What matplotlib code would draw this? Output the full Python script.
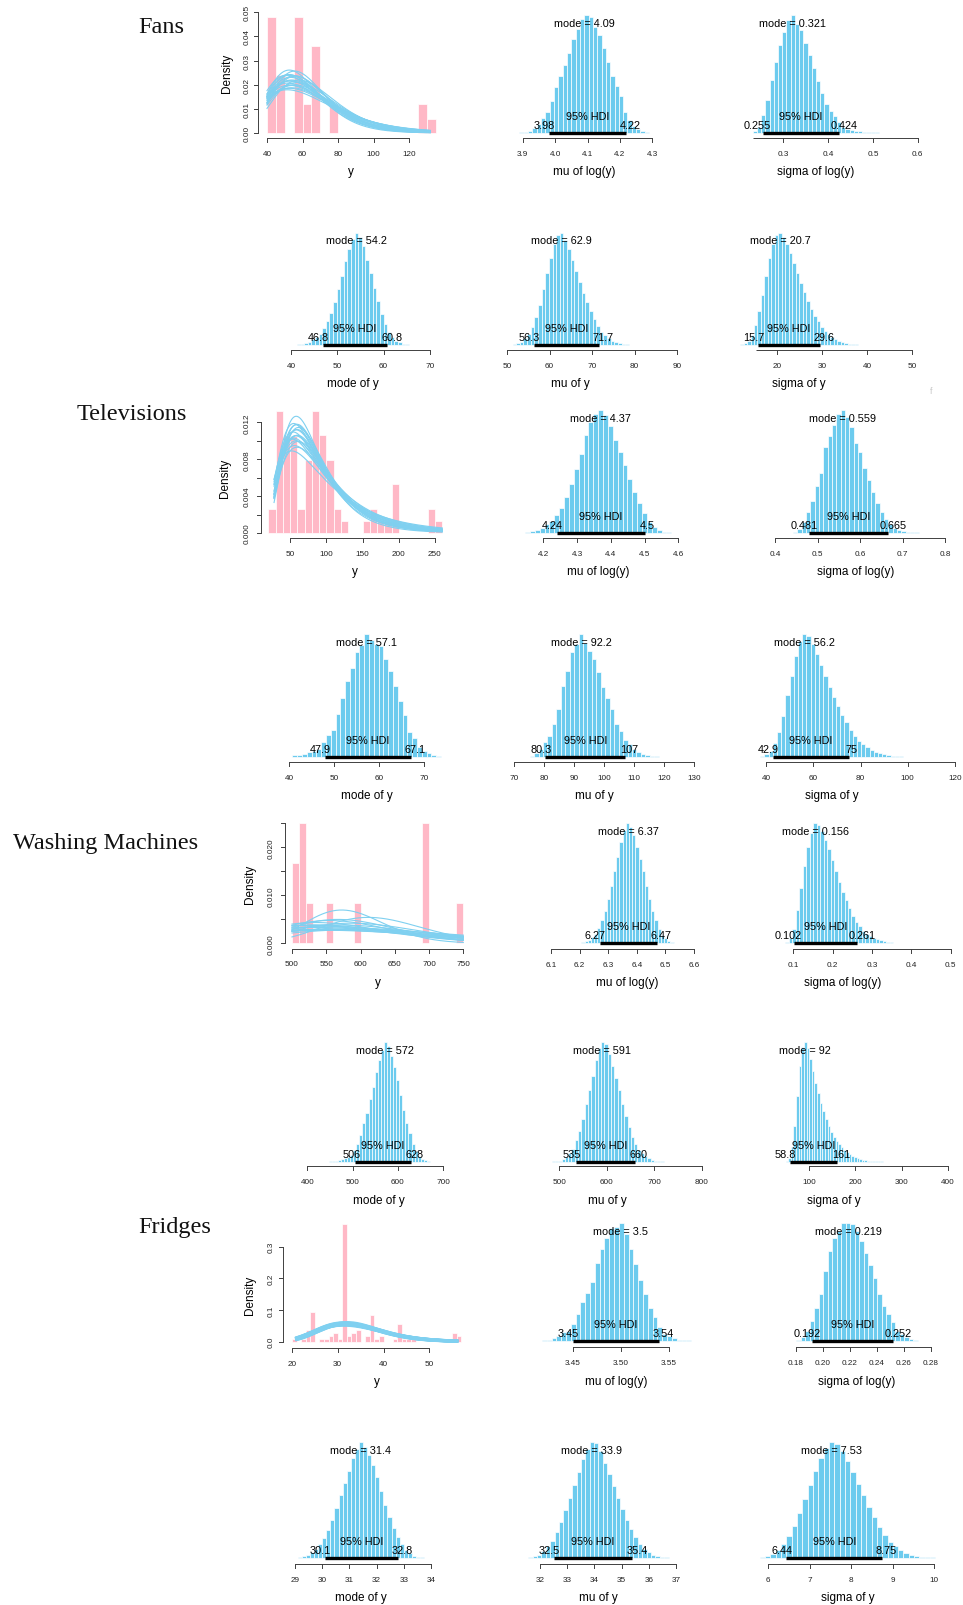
import numpy as np
import matplotlib.pyplot as plt

plt.rcParams['font.family'] = ['Liberation Sans', 'DejaVu Sans']

W, H = 963, 1606
BLUE = '#6ccbee'
CURVE = '#7fd0f0'
PINK = '#ffb8c6'
AXC = '#404040'

groups = ['Fans', 'Televisions', 'Washing Machines', 'Fridges']
param_labels = ['mu of log(y)', 'sigma of log(y)', 'mode of y', 'mu of y', 'sigma of y']

# ---------------- observed data (density per bin) ----------------
fans_breaks = np.arange(40, 140, 5)
fans_density = [0.048, 0.024, 0, 0.048, 0.012, 0.036, 0, 0.012, 0, 0, 0, 0, 0, 0, 0, 0, 0, 0.012, 0.006]
tv_breaks = np.arange(20, 270, 10)
tv_density = [0.0026, 0.0132, 0.0105, 0.0105, 0.0026, 0.0079, 0.0132, 0.0106, 0.0079, 0.0026, 0.0013, 0, 0,
              0.0013, 0.0026, 0.0013, 0.0013, 0.0053, 0, 0, 0, 0, 0.0026, 0.0013]
wm_breaks = np.arange(500, 760, 10)
wm_density = [0.0167, 0.025, 0.0083, 0, 0, 0.0083, 0, 0, 0, 0.0083, 0, 0, 0, 0, 0, 0, 0, 0, 0, 0.025, 0, 0, 0, 0, 0.0083]
fr_breaks = np.arange(20, 58, 1)
fr_counts = [1, 0, 1, 4, 10, 0, 1, 1, 2, 3, 1, 40, 2, 3, 4, 0, 2, 9, 1, 2, 0, 0, 1, 6, 1, 1, 1,
             0, 0, 0, 0, 0, 0, 0, 0, 3, 2]
fr_unit_density = 0.0093

# posterior predictive curves (lognormal mu, sigma pairs)
fans_pp_mu = [4.05, 4.08, 4.10, 4.12, 4.07, 4.09, 4.14, 4.04, 4.11, 4.06, 4.13, 4.09, 4.08, 4.10, 4.03, 4.15, 4.07, 4.11, 4.09, 4.12]
fans_pp_sigma = [0.30, 0.33, 0.29, 0.35, 0.31, 0.36, 0.32, 0.28, 0.38, 0.30, 0.34, 0.27, 0.33, 0.40, 0.31, 0.30, 0.35, 0.29, 0.32, 0.37]
tv_pp_mu = [4.37, 4.30, 4.42, 4.35, 4.40, 4.33, 4.38, 4.45, 4.36, 4.32, 4.39, 4.34, 4.41, 4.36, 4.29, 4.43, 4.37, 4.35]
tv_pp_sigma = [0.56, 0.48, 0.68, 0.53, 0.58, 0.51, 0.55, 0.60, 0.52, 0.57, 0.54, 0.50, 0.62, 0.59, 0.53, 0.56, 0.50, 0.61]
wm_pp_mu = [6.36, 6.43, 6.35, 6.30, 6.38, 6.33, 6.40, 6.37, 6.32, 6.41, 6.34, 6.39, 6.31, 6.36, 6.44, 6.35]
wm_pp_sigma = [0.10, 0.12, 0.25, 0.20, 0.18, 0.22, 0.16, 0.26, 0.19, 0.21, 0.15, 0.24, 0.17, 0.14, 0.23, 0.20]
fr_pp_mu = [3.50, 3.49, 3.51, 3.50, 3.48, 3.52, 3.50, 3.49, 3.51, 3.50, 3.49, 3.51, 3.50, 3.50, 3.52, 3.48]
fr_pp_sigma = [0.22, 0.21, 0.23, 0.22, 0.21, 0.22, 0.23, 0.22, 0.21, 0.24, 0.22, 0.20, 0.22, 0.23, 0.21, 0.22]
pp_range = {'Fans': (40, 132), 'Televisions': (28, 260), 'Washing Machines': (500, 750), 'Fridges': (21, 56)}

# ---------------- posterior summaries ----------------
fans_mode = [4.09, 0.321, 54.2, 62.9, 20.7]
fans_hdi_lo = [3.98, 0.255, 46.8, 56.3, 15.7]
fans_hdi_hi = [4.22, 0.424, 60.8, 71.7, 29.6]
fans_hist_start = [3.89, 0.232, 41.3, 51.3, 11.8]
fans_hist = [
    [0.5, 1, 2, 4, 8, 13, 18, 27, 39, 48, 58, 68, 80, 88, 97, 100, 98, 90, 83, 72, 60, 48, 40, 31, 18, 11, 6, 3, 1.5, 0.8],
    [1.4, 5, 15, 28, 45, 60, 75, 86, 96, 100, 92, 87, 76, 66, 55, 44, 34, 25, 19, 14, 9, 5.5, 3.7, 2.5, 1.8, 1.3, 1, 0.8, 0.6, 0.5],
    [0.5, 1, 2, 3, 5, 7, 10, 15, 21, 29, 38, 50, 62, 75, 86, 95, 100, 96, 88, 76, 64, 51, 39, 28, 19, 12, 7, 4, 2.3, 1.2, 0.6],
    [0.5, 1.5, 3, 6, 10, 16, 25, 36, 50, 64, 78, 90, 98, 100, 94, 86, 76, 66, 56, 46, 38, 30, 23, 17, 12, 8.5, 6, 4, 2.5, 1.5, 0.9, 0.6],
    [0.5, 1.5, 4, 9, 18, 30, 45, 62, 78, 90, 98, 100, 96, 90, 82, 73, 64, 55, 47, 39, 32, 26, 21, 16, 12.5, 9.5, 7, 5, 3.6, 2.5, 1.7, 1.1, 0.8, 0.6],
]
fans_ticks = [['3.9', '4.0', '4.1', '4.2', '4.3'], ['0.3', '0.4', '0.5', '0.6'], ['40', '50', '60', '70'],
              ['50', '60', '70', '80', '90'], ['20', '30', '40', '50']]

tv_mode = [4.37, 0.559, 57.1, 92.2, 56.2]
tv_hdi_lo = [4.24, 0.481, 47.9, 80.3, 42.9]
tv_hdi_hi = [4.5, 0.665, 67.1, 107, 75]
tv_hist_start = [4.146, 0.442, 40.7, 75.1, 37.5]
tv_hist = [
    [0.5, 1.5, 2.5, 4, 7, 10, 15, 20, 29, 40, 52, 64, 80, 90, 97, 100, 96, 87, 76, 66, 55, 44, 33, 24, 16, 9, 5, 2.5, 1.2, 0.6],
    [0.6, 3, 8.7, 17, 26, 38, 49, 70, 79, 88, 97, 100, 94, 86, 73, 66, 53, 43, 33, 24, 17, 11.4, 7.3, 4, 2.4, 1.6, 1.1, 0.7, 0.5],
    [1, 1.4, 2.4, 3.5, 5, 6, 12, 18, 22, 35, 48, 62, 72, 85, 91, 100, 95, 92, 90, 80, 70, 58, 45, 34, 20, 15, 8, 5, 3, 1.6, 0.8],
    [0.8, 3, 6, 12, 17, 27, 39, 58, 70, 85, 92, 100, 93, 86, 80, 69, 57, 48, 39, 27, 21, 14, 10, 6, 3.5, 2.2, 1.4, 0.8, 0.5],
    [0.5, 2, 5, 11, 20, 33, 50, 66, 82, 94, 100, 98, 92, 84, 75, 66, 57, 49, 41, 34, 28, 22, 17, 13, 10, 7.5, 5.5, 4, 2.8, 1.9, 1.2, 0.8, 0.6, 0.5],
]
tv_ticks = [['4.2', '4.3', '4.4', '4.5', '4.6'], ['0.4', '0.5', '0.6', '0.7', '0.8'], ['40', '50', '60', '70'],
            ['70', '80', '90', '100', '110', '120', '130'], ['40', '60', '80', '100', '120']]

wm_mode = [6.37, 0.156, 572, 591, 92]
wm_hdi_lo = [6.27, 0.102, 506, 535, 58.8]
wm_hdi_hi = [6.47, 0.261, 628, 660, 161]
wm_hist_start = [6.195, 0.080, 447, 484, 49.4]
wm_hist = [
    [0.5, 0.8, 1.5, 3, 5, 8, 13, 19, 27, 37, 48, 60, 72, 84, 94, 100, 97, 90, 80, 70, 60, 48, 37, 27, 19, 12, 7, 4, 2, 1, 0.6],
    [1, 4, 12, 28, 46, 64, 80, 92, 100, 98, 93, 86, 78, 69, 60, 51, 43, 36, 29, 23, 18, 14, 10.5, 8, 6, 4.5, 3.3, 2.4, 1.7, 1.2, 0.8, 0.6, 0.5],
    [0.5, 0.6, 1, 1.5, 2, 3, 4, 6, 10, 15, 22, 32, 41, 52, 62, 75, 85, 93, 100, 97, 88, 79, 68, 56, 43, 32, 24, 15, 9, 5, 2.5, 1.2, 0.6],
    [0.5, 0.6, 1, 2, 4, 7, 11, 18, 26, 36, 48, 60, 72, 85, 95, 100, 98, 90, 80, 70, 60, 48, 38, 29, 21, 15, 10, 7, 4.5, 3, 1.8, 1, 0.6, 0.5],
    [0.5, 3, 12, 30, 55, 80, 96, 100, 95, 86, 76, 66, 57, 49, 42, 36, 30, 25, 21, 17.5, 14.5, 12, 10, 8, 6.5, 5, 4, 3.1, 2.4, 1.8, 1.3, 1, 0.8, 0.6, 0.5, 0.4, 0.3],
]
wm_ticks = [['6.1', '6.2', '6.3', '6.4', '6.5', '6.6'], ['0.1', '0.2', '0.3', '0.4', '0.5'], ['400', '500', '600', '700'],
            ['500', '600', '700', '800'], ['100', '200', '300', '400']]

fr_mode = [3.5, 0.219, 31.4, 33.9, 7.53]
fr_hdi_lo = [3.45, 0.192, 30.1, 32.5, 6.44]
fr_hdi_hi = [3.54, 0.252, 32.8, 35.4, 8.75]
fr_hist_start = [3.418, 0.180, 29.1, 31.57, 5.80]
fr_hist = [
    [0.5, 0.8, 2.5, 4.5, 7.3, 8.8, 14, 23, 33, 41, 50, 66, 78, 87, 96, 97, 100, 91, 78, 65, 52, 40, 28, 20, 12, 6, 4, 2.5, 1.1, 0.7, 0.5],
    [1.1, 3, 8.5, 17, 28, 40, 59, 76, 87, 93, 100, 99.7, 99, 93, 85, 75, 64, 53, 40, 30, 23, 16, 8.8, 6, 3, 1.4, 0.7],
    [0.5, 1.5, 3, 5, 8, 12, 17, 24, 33, 43, 54, 65, 75, 86, 94, 100, 96, 89, 80, 70, 58, 46, 35, 26, 18, 12, 7, 4, 2, 1, 0.6],
    [0.5, 1.5, 3, 6, 10, 15, 22, 31, 41, 52, 63, 74, 85, 94, 100, 99, 92, 82, 72, 62, 52, 42, 33, 25, 18, 12, 8, 5, 3, 1.5, 0.8, 0.5],
    [0.5, 1.5, 3.5, 7, 12, 19, 28, 39, 51, 63, 75, 86, 95, 100, 98, 92, 84, 74, 64, 54, 44, 35, 27, 20, 14, 10, 7, 4.5, 3, 2, 1.2, 0.8, 0.5],
]
fr_ticks = [['3.45', '3.50', '3.55'], ['0.18', '0.20', '0.22', '0.24', '0.26', '0.28'], ['29', '30', '31', '32', '33', '34'],
            ['32', '33', '34', '35', '36', '37'], ['6', '7', '8', '9', '10']]

# ---------------- layout (pixels in the 963x1606 canvas) ----------------
# rows: (peak of histogram, baseline, axis line)
row_px = {
    'Fans': [(16, 134, 138.5), (234, 346, 351)],
    'Televisions': [(411, 534, 539), (635, 757.7, 763)],
    'Washing Machines': [(824, 944.3, 950), (1043, 1162.7, 1167.3)],
    'Fridges': [(1224, 1342, 1348.3), (1443, 1559, 1565)],
}
# (tick value, pixel, tick value, pixel) for every posterior panel
post_x = {
    'Fans': [(3.9, 522.7, 4.3, 652.3), (0.3, 783.3, 0.6, 917.7), (40, 291, 70, 430), (50, 507, 90, 677), (20, 777, 50, 912)],
    'Televisions': [(4.2, 543.3, 4.6, 678.3), (0.4, 775, 0.8, 945), (40, 289.3, 70, 424), (70, 514.3, 130, 694.3), (40, 766, 120, 955)],
    'Washing Machines': [(6.1, 551, 6.6, 694), (0.1, 793.3, 0.5, 950.7), (400, 307.3, 700, 443.3), (500, 559.3, 800, 701.7), (100, 809, 400, 948)],
    'Fridges': [(3.45, 572.7, 3.55, 669), (0.18, 796, 0.28, 931), (29, 295, 34, 431), (32, 540, 37, 676), (6, 768, 10, 934)],
}
# in the Fans sigma panels the axis line starts left of the first tick
axis_start = {('Fans', 1): 0.233, ('Fans', 4): 15.3}
title_px = {'Fans': (161, 33), 'Televisions': (132, 420), 'Washing Machines': (106, 849), 'Fridges': (175, 1233)}

fig = plt.figure(figsize=(W / 100, H / 100), dpi=100)
renderer = fig.canvas.get_renderer()


def lognorm_pdf(x, mu, sigma):
    return np.exp(-(np.log(x) - mu) ** 2 / (2 * sigma ** 2)) / (x * sigma * np.sqrt(2 * np.pi))


def make_ax(box, xa, ya):
    L, T, R, B = box
    ax = fig.add_axes([L / W, 1 - B / H, (R - L) / W, (B - T) / H])
    v0, p0, v1, p1 = xa
    sx = (v1 - v0) / (p1 - p0)
    ax.set_xlim(v0 + (L - p0) * sx, v0 + (R - p0) * sx)
    u0, q0, u1, q1 = ya
    sy = (u1 - u0) / (q1 - q0)
    ax.set_ylim(u0 + (B - q0) * sy, u0 + (T - q0) * sy)
    ax.axis('off')
    return ax, sx, (lambda p: v0 + (p - p0) * sx), (lambda q: u0 + (q - q0) * sy)


def x_axis(ax, yv, labels, axis_px, line_from=None):
    ticks = [float(s) for s in labels]
    y0 = yv(axis_px)
    x_first = ticks[0] if line_from is None else line_from
    ax.plot([x_first, ticks[-1]], [y0, y0], color=AXC, lw=0.7, clip_on=False, solid_capstyle='butt')
    for t, s in zip(ticks, labels):
        ax.plot([t, t], [y0, yv(axis_px + 4)], color=AXC, lw=0.7, clip_on=False)
        ax.text(t, yv(axis_px + 15.5), s, ha='center', va='center', fontsize=5.9, color='#222222')


def post_panel(xa, row, label, mode, lo, hi, start, heights, tick_labels, line_from=None):
    peak, base, axis_px = row
    ax, sx, xv, yv = make_ax((xa[1] - 90, peak - 30, xa[3] + 90, axis_px + 45), xa, (0, base, 100, peak))
    w = (hi - lo) / 18
    h = np.asarray(heights, float)
    left = start + w * np.arange(len(h))
    ax.bar(left, h, width=w, align='edge', color=BLUE, edgecolor='white', linewidth=0.5, clip_on=False)
    ax.plot([lo, hi], [0, 0], color='black', lw=2.4, solid_capstyle='butt', clip_on=False)
    ax.text(mode, yv(base - 0.9 * (base - peak) - 4), 'mode = %.3g' % mode, ha='center', va='center', fontsize=7.8)
    ax.text((lo + hi) / 2, yv(base - 17), '95% HDI', ha='center', va='center', fontsize=7.8)
    for v, shift in ((lo, -0.2), (hi, 0.2)):
        t = ax.text(v, yv(base - 8), '%.3g' % v, ha='center', va='center', fontsize=7.8)
        wpx = t.get_window_extent(renderer).width
        t.set_x(v + shift * wpx * sx)
    x_axis(ax, yv, tick_labels, axis_px, line_from)
    ax.text(start + len(h) * w / 2, yv(axis_px + 33.5), label, ha='center', va='center', fontsize=8.5)


def data_panel(name, xa, ya, yaxis_px, xaxis_px, ylab_px, dens_px, breaks, dens, pp_mu, pp_sigma,
               xlabels, yticks, ylabels, curve_lw):
    ax, sx, xv, yv = make_ax((xa[1] - 60, ya[3] - 30, xa[3] + 60, xaxis_px + 45), xa, ya)
    ax.bar(breaks[:-1], dens, width=np.diff(breaks), align='edge', color=PINK, edgecolor='white',
           linewidth=0.5, clip_on=False)
    xs = np.linspace(pp_range[name][0], pp_range[name][1], 300)
    for m, s in zip(pp_mu, pp_sigma):
        ax.plot(xs, lognorm_pdf(xs, m, s), color=CURVE, lw=curve_lw, clip_on=False)
    x_axis(ax, yv, xlabels, xaxis_px)
    ax.text((breaks[0] + breaks[-1]) / 2, yv(xaxis_px + 33.5), 'y', ha='center', va='center', fontsize=8.5)
    x0 = xv(yaxis_px)
    ax.plot([x0, x0], [yticks[0], yticks[-1]], color=AXC, lw=0.7, clip_on=False, solid_capstyle='butt')
    for t, s in zip(yticks, ylabels):
        ax.plot([xv(yaxis_px - 4), x0], [t, t], color=AXC, lw=0.7, clip_on=False)
        if s:
            ax.text(xv(ylab_px), t, s, rotation=90, ha='center', va='center', fontsize=5.9, color='#222222')
    ax.text(xv(dens_px), (yticks[0] + yticks[-1]) / 2, 'Density', rotation=90, ha='center', va='center',
            fontsize=8.5)


# data panels
data_panel('Fans', (40, 267, 120, 409), (0, 134, 0.05, 13.3), 258, 138.6, 247, 227,
           fans_breaks, fans_density, fans_pp_mu, fans_pp_sigma,
           ['40', '60', '80', '100', '120'], [0, 0.01, 0.02, 0.03, 0.04, 0.05],
           ['0.00', '0.01', '0.02', '0.03', '0.04', '0.05'], 0.8)
data_panel('Televisions', (50, 290, 250, 435), (0, 534, 0.012, 423.3), 261, 538.5, 247.5, 224.5,
           tv_breaks, tv_density, tv_pp_mu, tv_pp_sigma,
           ['50', '100', '150', '200', '250'], [0, 0.002, 0.004, 0.006, 0.008, 0.010, 0.012],
           ['0.000', '', '0.004', '', '0.008', '', '0.012'], 0.8)
data_panel('Washing Machines', (500, 292, 750, 463.3), (0, 944.3, 0.025, 824.3), 285, 949.5, 270.7, 250,
           wm_breaks, wm_density, wm_pp_mu, wm_pp_sigma,
           ['500', '550', '600', '650', '700', '750'], [0, 0.005, 0.010, 0.015, 0.020, 0.025],
           ['0.000', '', '0.010', '', '0.020', ''], 0.8)
data_panel('Fridges', (20, 292, 50, 429.3), (0, 1342.7, 0.3, 1247.7), 283, 1348.5, 270.7, 250,
           fr_breaks, [c * fr_unit_density for c in fr_counts], fr_pp_mu, fr_pp_sigma,
           ['20', '30', '40', '50'], [0, 0.1, 0.2, 0.3], ['0.0', '0.1', '0.2', '0.3'], 2.0)

# posterior panels
summaries = {
    'Fans': (fans_mode, fans_hdi_lo, fans_hdi_hi, fans_hist_start, fans_hist, fans_ticks),
    'Televisions': (tv_mode, tv_hdi_lo, tv_hdi_hi, tv_hist_start, tv_hist, tv_ticks),
    'Washing Machines': (wm_mode, wm_hdi_lo, wm_hdi_hi, wm_hist_start, wm_hist, wm_ticks),
    'Fridges': (fr_mode, fr_hdi_lo, fr_hdi_hi, fr_hist_start, fr_hist, fr_ticks),
}
panel_row = [0, 0, 1, 1, 1]
for g in groups:
    modes, los, his, starts, hists, ticks = summaries[g]
    for i in range(5):
        post_panel(post_x[g][i], row_px[g][panel_row[i]], param_labels[i], modes[i], los[i], his[i],
                   starts[i], hists[i], ticks[i], axis_start.get((g, i)))
    tx, ty = title_px[g]
    fig.text(tx / W, 1 - ty / H, g, family=['Liberation Serif', 'DejaVu Serif'], fontsize=17.5,
             ha='center', va='baseline', color='#111111')

# small grey crop mark left over in the original composite
fig.text(931 / W, 1 - 392 / H, 'f', fontsize=6.5, color='#c8c8c8', ha='center', va='center')

fig.savefig('out.png', dpi=100, facecolor='white')
